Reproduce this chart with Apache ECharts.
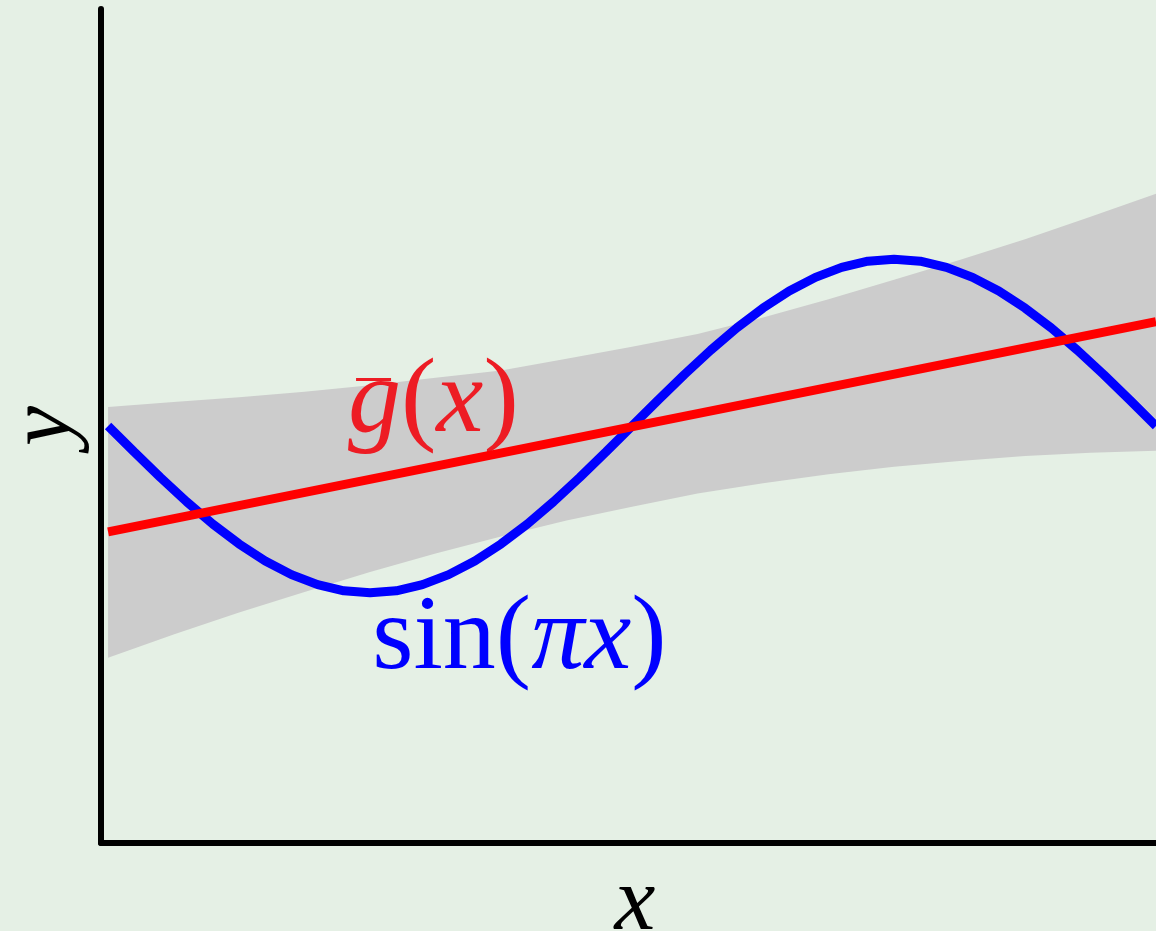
<!DOCTYPE html>
<html>
<head>
<meta charset="utf-8">
<script src="https://cdn.jsdelivr.net/npm/echarts@6/dist/echarts.min.js"></script>
<style>
html,body{margin:0;padding:0;background:#e5f0e5;}
#c{width:1156px;height:931px;}
</style>
</head>
<body>
<div id="c"></div>
<script>
// sin(pi x) curve, read at x step 0.05
const sinX = [-1,-0.95,-0.9,-0.85,-0.8,-0.75,-0.7,-0.65,-0.6,-0.55,-0.5,-0.45,-0.4,-0.35,-0.3,-0.25,-0.2,-0.15,-0.1,-0.05,0,0.05,0.1,0.15,0.2,0.25,0.3,0.35,0.4,0.45,0.5,0.55,0.6,0.65,0.7,0.75,0.8,0.85,0.9,0.95,1];
const sinY = [0,-0.156,-0.309,-0.454,-0.588,-0.707,-0.809,-0.891,-0.951,-0.988,-1,-0.988,-0.951,-0.891,-0.809,-0.707,-0.588,-0.454,-0.309,-0.156,0,0.156,0.309,0.454,0.588,0.707,0.809,0.891,0.951,0.988,1,0.988,0.951,0.891,0.809,0.707,0.588,0.454,0.309,0.156,0];
// average hypothesis g-bar(x)
const gX = [-1, 1];
const gY = [-0.635, 0.625];
// variance band
const bandX = [-1,-0.875,-0.75,-0.625,-0.5,-0.375,-0.25,-0.125,0,0.125,0.25,0.375,0.5,0.625,0.75,0.875,1];
const bandUpper = [0.114,0.144,0.172,0.205,0.244,0.29,0.333,0.403,0.475,0.552,0.65,0.76,0.877,0.995,1.12,1.255,1.393];
const bandLower = [-1.39,-1.25,-1.118,-0.995,-0.876,-0.764,-0.662,-0.566,-0.484,-0.404,-0.343,-0.29,-0.244,-0.21,-0.18,-0.16,-0.148];

const serif = '"Liberation Serif","DejaVu Serif",serif';
const chart = echarts.init(document.getElementById('c'));
const option = {
  backgroundColor: '#e5f0e5',
  animation: false,
  grid: {left: 101, right: 0, top: 9, bottom: 88, containLabel: false, outerBoundsMode: 'none'},
  xAxis: {
    type: 'value', min: -1.0135, max: 1,
    axisLine: {show: true, onZero: false, lineStyle: {color: '#000', width: 6}},
    axisTick: {show: false}, axisLabel: {show: false}, splitLine: {show: false},
    name: 'x', nameLocation: 'middle', nameGap: 16,
    nameTextStyle: {fontFamily: serif, fontStyle: 'italic', fontSize: 92, color: '#000', verticalAlign: 'top', padding: [0,0,0,13]}
  },
  yAxis: {
    type: 'value', min: -2.5, max: 2.5,
    axisLine: {show: true, onZero: false, lineStyle: {color: '#000', width: 6}},
    axisTick: {show: false}, axisLabel: {show: false}, splitLine: {show: false},
    name: 'y', nameLocation: 'middle', nameGap: 10, nameRotate: 90,
    nameTextStyle: {fontFamily: serif, fontStyle: 'italic', fontSize: 90, color: '#000'}
  },
  series: [
    {
      type: 'custom',
      data: [[0, 0]],
      clip: true,
      z: 1,
      renderItem: function (params, api) {
        const pts = [];
        for (let i = 0; i < bandX.length; i++) pts.push(api.coord([bandX[i], bandUpper[i]]));
        for (let i = bandX.length - 1; i >= 0; i--) pts.push(api.coord([bandX[i], bandLower[i]]));
        return {type: 'polygon', shape: {points: pts}, style: {fill: '#cccccc'}};
      }
    },
    {
      type: 'line', z: 3,
      data: sinX.map((x, i) => [x, sinY[i]]),
      showSymbol: false, symbol: 'none',
      lineStyle: {color: '#0000ff', width: 9}
    },
    {
      type: 'line', z: 4,
      data: gX.map((x, i) => [x, gY[i]]),
      showSymbol: false, symbol: 'none',
      lineStyle: {color: '#ff0000', width: 9}
    }
  ]
};
chart.setOption(option);

// label anchors in data space (left edge, baseline)
const gPos = chart.convertToPixel({gridIndex: 0}, [-0.542, -0.048]);
const sPos = chart.convertToPixel({gridIndex: 0}, [-0.496, -1.451]);
chart.setOption({
  graphic: [
    {
      type: 'text', z: 2, x: gPos[0], y: gPos[1] + 22,
      style: {
        text: '{i|g}{n|(}{i|x}{n|)}',
        textVerticalAlign: 'bottom',
        rich: {
          i: {fontFamily: serif, fontStyle: 'italic', fontSize: 106, fill: '#ed1c24', color: '#ed1c24'},
          n: {fontFamily: serif, fontSize: 106, fill: '#ed1c24', color: '#ed1c24'}
        }
      }
    },
    {
      type: 'rect', z: 2,
      shape: {x: gPos[0] + 8, y: gPos[1] - 56, width: 35, height: 3},
      style: {fill: '#ed1c24'}
    },
    {
      type: 'text', z: 2, x: sPos[0], y: sPos[1] + 25,
      style: {
        text: '{n|sin(}{i|πx}{n|)}',
        textVerticalAlign: 'bottom',
        rich: {
          i: {fontFamily: serif, fontStyle: 'italic', fontSize: 106, fill: '#0000ff', color: '#0000ff'},
          n: {fontFamily: serif, fontSize: 106, fill: '#0000ff', color: '#0000ff'}
        }
      }
    }
  ]
});
</script>
</body>
</html>
